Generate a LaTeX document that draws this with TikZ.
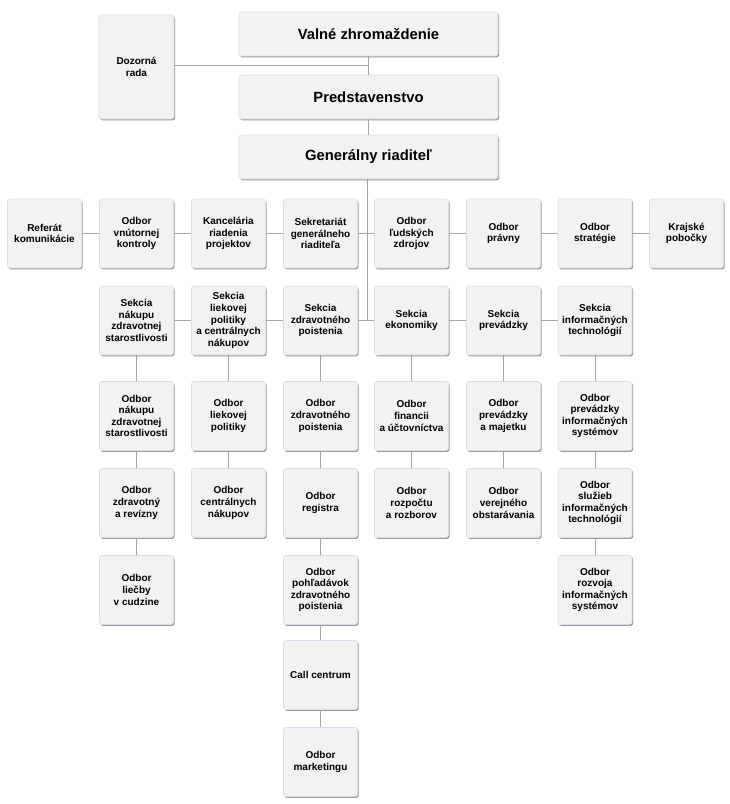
\documentclass[tikz,border=0pt]{standalone}
\usepackage{fontspec}
\setmainfont{Liberation Sans}
\usetikzlibrary{shadows}
\definecolor{boxfill}{HTML}{F2F2F2}
\definecolor{boxedge}{HTML}{D6DEEC}
\definecolor{shadowc}{HTML}{8E8E8E}
\definecolor{linec}{HTML}{A6A6A6}
\tikzset{
  box/.style={rectangle, rounded corners=2.5pt, fill=boxfill, draw=boxedge, line width=0.6pt,
    minimum width=74pt, minimum height=69pt, inner sep=1pt, align=center,
    font=\fontsize{10}{11.6}\selectfont\bfseries,
    drop shadow={shadow xshift=1.1pt, shadow yshift=-1.4pt, fill=shadowc, opacity=0.9}},
  bigbox/.style={box, minimum width=259pt, minimum height=44pt, font=\fontsize{14.8}{17}\selectfont\bfseries},
  conn/.style={draw=linec, line width=0.8pt},
}
\begin{document}
\begin{tikzpicture}[x=1pt, y=-1pt]
\useasboundingbox (0,0) rectangle (730,804);
% top
\node[bigbox] (valne) at (368.5,34) {Valné zhromaždenie};
\node[bigbox] (pred) at (368.5,97) {Predstavenstvo};
\node[bigbox] (gen) at (368.5,157) {Generálny riaditeľ};
\node[box, minimum width=75pt, minimum height=104pt] (doz) at (136.5,67) {Dozorná\\rada};
% row 1
\node[box] (ref) at (44.5,233.5) {Referát\\komunikácie};
\node[box] (vnk) at (136.5,233.5) {Odbor\\vnútornej\\kontroly};
\node[box] (kan) at (228.5,233.5) {Kancelária\\riadenia\\projektov};
\node[box] (sek) at (320.5,233.5) {Sekretariát\\generálneho\\riaditeľa};
\node[box] (olz) at (411.5,233.5) {Odbor\\ľudských\\zdrojov};
\node[box] (opr) at (503.5,233.5) {Odbor\\právny};
\node[box] (ost) at (595,233.5) {Odbor\\stratégie};
\node[box] (kp) at (686.5,233.5) {Krajské\\pobočky};
% row 2
\node[box] (s1) at (136.5,320.5) {Sekcia\\nákupu\\zdravotnej\\starostlivosti};
\node[box] (s2) at (228.5,320.5) {Sekcia\\liekovej\\politiky\\a centrálnych\\nákupov};
\node[box] (s3) at (320.5,320.5) {Sekcia\\zdravotného\\poistenia};
\node[box] (s4) at (411.5,320.5) {Sekcia\\ekonomiky};
\node[box] (s5) at (503.5,320.5) {Sekcia\\prevádzky};
\node[box] (s6) at (595,320.5) {Sekcia\\informačných\\technológií};
% column 2
\node[box] (a1) at (136.5,416) {Odbor\\nákupu\\zdravotnej\\starostlivosti};
\node[box] (a2) at (136.5,503) {Odbor\\zdravotný\\a revízny};
\node[box] (a3) at (136.5,590) {Odbor\\liečby\\v cudzine};
% column 3
\node[box] (b1) at (228.5,416) {Odbor\\liekovej\\politiky};
\node[box] (b2) at (228.5,503) {Odbor\\centrálnych\\nákupov};
% column 4
\node[box] (c1) at (320.5,416) {Odbor\\zdravotného\\poistenia};
\node[box] (c2) at (320.5,503) {Odbor\\registra};
\node[box] (c3) at (320.5,590) {Odbor\\pohľadávok\\zdravotného\\poistenia};
\node[box] (c4) at (320.5,675) {Call centrum};
\node[box] (c5) at (320.5,762) {Odbor\\marketingu};
% column 5
\node[box] (d1) at (411.5,416) {Odbor\\financii\\a účtovníctva};
\node[box] (d2) at (411.5,503) {Odbor\\rozpočtu\\a rozborov};
% column 6
\node[box] (e1) at (503.5,416) {Odbor\\prevádzky\\a majetku};
\node[box] (e2) at (503.5,503) {Odbor\\verejného\\obstarávania};
% column 7
\node[box] (f1) at (595,416) {Odbor\\prevádzky\\informačných\\systémov};
\node[box] (f2) at (595,503) {Odbor\\služieb\\informačných\\technológií};
\node[box] (f3) at (595,590) {Odbor\\rozvoja\\informačných\\systémov};
% connectors
\coordinate (j0) at (368.5,65);
\draw[conn] (valne.south) -- (pred.north);
\draw[conn] (doz.east |- j0) -- (j0);
\draw[conn] (pred.south) -- (gen.north);
\coordinate (j2) at (367,320.5);
\draw[conn] (gen.south -| j2) -- (j2);
\draw[conn] (ref.east) -- (vnk.west);
\draw[conn] (vnk.east) -- (kan.west);
\draw[conn] (kan.east) -- (sek.west);
\draw[conn] (sek.east) -- (olz.west);
\draw[conn] (olz.east) -- (opr.west);
\draw[conn] (opr.east) -- (ost.west);
\draw[conn] (ost.east) -- (kp.west);
\draw[conn] (s1.east) -- (s2.west);
\draw[conn] (s2.east) -- (s3.west);
\draw[conn] (s3.east) -- (s4.west);
\draw[conn] (s4.east) -- (s5.west);
\draw[conn] (s5.east) -- (s6.west);
\draw[conn] (s1.south) -- (a1.north);
\draw[conn] (a1.south) -- (a2.north);
\draw[conn] (a2.south) -- (a3.north);
\draw[conn] (s2.south) -- (b1.north);
\draw[conn] (b1.south) -- (b2.north);
\draw[conn] (s3.south) -- (c1.north);
\draw[conn] (c1.south) -- (c2.north);
\draw[conn] (c2.south) -- (c3.north);
\draw[conn] (c3.south) -- (c4.north);
\draw[conn] (c4.south) -- (c5.north);
\draw[conn] (s4.south) -- (d1.north);
\draw[conn] (d1.south) -- (d2.north);
\draw[conn] (s5.south) -- (e1.north);
\draw[conn] (e1.south) -- (e2.north);
\draw[conn] (s6.south) -- (f1.north);
\draw[conn] (f1.south) -- (f2.north);
\draw[conn] (f2.south) -- (f3.north);
\end{tikzpicture}
\end{document}
